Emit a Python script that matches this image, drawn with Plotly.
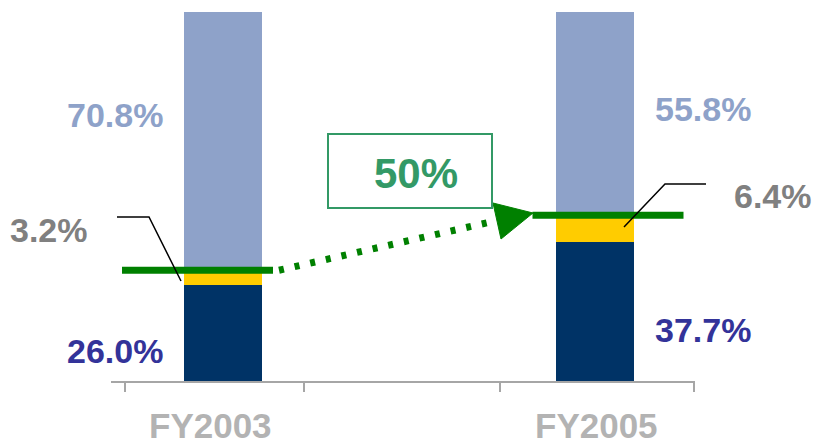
import plotly.graph_objects as go

# ---- data ----
categories = ["FY2003", "FY2005"]
share_base = [26.0, 37.7]      # navy
share_mid = [3.2, 6.4]         # yellow (highlighted)
share_rest = [70.8, 55.8]      # light blue
growth_label = "50%"

# ---- styles ----
C_NAVY = "#003366"
C_YEL = "#FFCC00"
C_LBLUE = "#8EA2C9"
C_GREEN = "#008000"
C_GRAY = "#808080"
C_PURP = "#333399"
C_AXIS = "#A6A6A6"
C_LAB = "#B3B3B3"
C_BOX = "#339966"
FONT = "Liberation Sans, Arial, sans-serif"

W, H = 815, 446
L, R, T, B = 111, 120, 12, 65
C0, STEP = 223.0, 371.5          # pixel centre of first bar, pixel distance between bars
PLOT_W = W - L - R
PLOT_H = H - T - B


def xd(px):
    return (px - C0) / STEP


def yd(py):
    return (H - B - py) / PLOT_H * 100.0


def xp(px):
    return (px - L) / PLOT_W


def yp(py):
    return (H - B - py) / PLOT_H


xs = list(range(len(categories)))
bw = 78 / STEP

fig = go.Figure()
fig.add_bar(x=xs, y=share_base, marker_color=C_NAVY, width=bw, name="base",
            marker_line_width=0)
fig.add_bar(x=xs, y=share_mid, marker_color=C_YEL, width=bw, name="mid",
            marker_line_width=0)
fig.add_bar(x=xs, y=share_rest, marker_color=C_LBLUE, width=bw, name="rest",
            marker_line_width=0)

shapes = []
annotations = []
totals = [a + b for a, b in zip(share_base, share_mid)]
line_off = 3 / PLOT_H * 100
# green marker lines at the top of the highlighted segment
gl_ext = [(-101, 50), (-62, 89)]
for i, t in enumerate(totals):
    shapes.append(dict(type="line", xref="x", yref="y",
                       x0=i + gl_ext[i][0] / STEP, x1=i + gl_ext[i][1] / STEP,
                       y0=t + line_off, y1=t + line_off,
                       line=dict(color=C_GREEN, width=7)))

# dotted connector and arrowhead
y0 = totals[0] + line_off
shapes.append(dict(type="line", xref="x", yref="y",
                   x0=gl_ext[0][1] / STEP + 6 / STEP, y0=y0,
                   x1=xd(497), y1=yd(220.5),
                   line=dict(color=C_GREEN, width=7, dash="5px,11px")))
shapes.append(dict(type="path", xref="x", yref="y",
                   path=f"M {xd(493)},{yd(203)} L {xd(533)},{yd(213)} L {xd(501)},{yd(239)} Z",
                   fillcolor=C_GREEN, line=dict(color=C_GREEN, width=1)))

# callout lines (paper refs so they are not clipped)
shapes.append(dict(type="path", xref="paper", yref="paper",
                   path=f"M {xp(117)},{yp(217)} L {xp(149)},{yp(217)} L {xp(181)},{yp(281)}",
                   line=dict(color="black", width=1.5)))
shapes.append(dict(type="path", xref="paper", yref="paper",
                   path=f"M {xp(706)},{yp(184)} L {xp(665)},{yp(184)} L {xp(624)},{yp(227)}",
                   line=dict(color="black", width=1.5)))

# growth box
shapes.append(dict(type="rect", xref="paper", yref="paper",
                   x0=xp(328), x1=xp(492), y0=yp(134), y1=yp(208),
                   line=dict(color=C_BOX, width=2), fillcolor="white"))
annotations.append(dict(x=xp(416), y=yp(173), xref="paper", yref="paper",
                        text=f"<b>{growth_label}</b>",
                        showarrow=False, font=dict(family=FONT, size=42, color=C_BOX),
                        xanchor="center", yanchor="middle"))

# value labels
lab_pos = {
    0: [((115, 115), share_rest, C_LBLUE), ((49, 230), share_mid, C_GRAY), ((115, 351), share_base, C_PURP)],
    1: [((703, 109), share_rest, C_LBLUE), ((773, 196), share_mid, C_GRAY), ((703, 330), share_base, C_PURP)],
}
for i, items in lab_pos.items():
    for (px, py), arr, col in items:
        annotations.append(dict(x=xp(px), y=yp(py), xref="paper", yref="paper",
                                text=f"<b>{arr[i]:.1f}%</b>", showarrow=False,
                                font=dict(family=FONT, size=34, color=col),
                                xanchor="center", yanchor="middle"))

# category labels
cat_px = [210, 596]
for i, c in enumerate(categories):
    annotations.append(dict(x=xp(cat_px[i]), y=yp(446), xref="paper", yref="paper",
                            text=f"<b>{c}</b>", showarrow=False, borderpad=0,
                            font=dict(family=FONT, size=35, color=C_LAB),
                            xanchor="center", yanchor="bottom"))

fig.update_layout(
    width=W, height=H,
    margin=dict(l=L, r=R, t=T, b=B, pad=0),
    barmode="stack", showlegend=False,
    plot_bgcolor="white", paper_bgcolor="white",
    shapes=shapes, annotations=annotations,
    xaxis=dict(range=[xd(111), xd(695)], showgrid=False, zeroline=False,
               showline=True, linecolor=C_AXIS, linewidth=2,
               ticks="outside", ticklen=9, tickwidth=2, tickcolor=C_AXIS,
               tickvals=[xd(125), xd(304), xd(500), xd(694)],
               ticktext=["", "", "", ""], fixedrange=True),
    yaxis=dict(range=[0, 100], visible=False, fixedrange=True),
)

fig.write_html("out.html")
